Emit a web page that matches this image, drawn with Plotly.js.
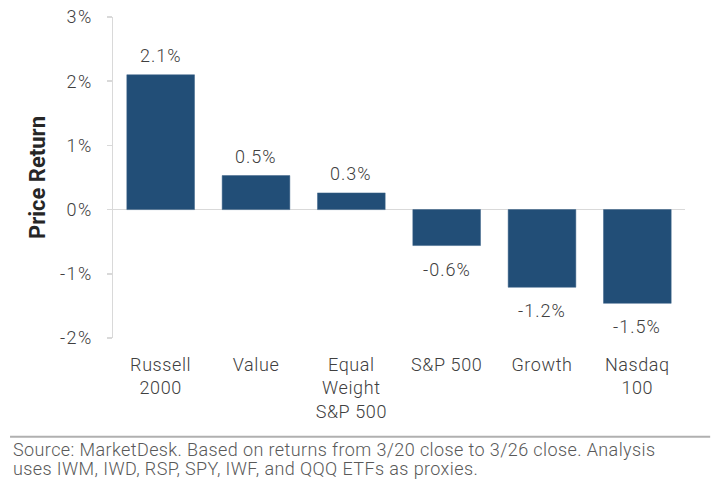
<!DOCTYPE html>
<html>
<head>
<meta charset="utf-8">
<script src="https://cdn.plot.ly/plotly-3.0.1.min.js"></script>
<style>html,body{margin:0;padding:0;background:#fff;}#chart{width:719px;height:496px;}</style>
</head>
<body>
<div id="chart"></div>
<script>
var categories = ["Russell<br>2000", "Value", "Equal<br>Weight<br>S&P 500", "S&P 500", "Growth", "Nasdaq<br>100"];
var returns = [2.10, 0.53, 0.26, -0.56, -1.21, -1.46];
var labels = ["2.1%", "0.5%", "0.3%", "-0.6%", "-1.2%", "-1.5%"];
var yTickVals = [-2, -1, 0, 1, 2, 3];
var yTickText = ["-2%", "-1%", "0%", "1%", "2%", "3%"];
var sourceLines = [
  "Source: MarketDesk. Based on returns from 3/20 close to 3/26 close. Analysis",
  "uses IWM, IWD, RSP, SPY, IWF, and QQQ ETFs as proxies."
];

var FONT = "Roboto, 'Liberation Sans', Arial, sans-serif";

function spaced(t, px) {
  return t.split('<br>').map(function (s) {
    return '<span style="letter-spacing:' + px + 'px">' + s + '</span>';
  }).join('<br>');
}

var annotations = categories.map(function (c, i) {
  var pos = returns[i] >= 0;
  return {
    x: c, y: returns[i], xref: 'x', yref: 'y',
    text: spaced(labels[i], 1), showarrow: false,
    yanchor: pos ? 'bottom' : 'top',
    yshift: pos ? 7 : -11,
    font: {family: FONT, size: 18, color: '#404040', weight: 300}
  };
});
sourceLines.forEach(function (t, i) {
  annotations.push({
    xref: 'paper', yref: 'paper', x: -0.178, y: -0.348 - i * 0.057,
    xanchor: 'left', yanchor: 'middle', showarrow: false, text: spaced(t, 0.4),
    font: {family: FONT, size: 18, color: '#595959', weight: 300}
  });
});

var data = [{
  type: 'bar', x: categories, y: returns,
  marker: {color: '#224e77', line: {color: '#3b6388', width: 0.5}},
  hoverinfo: 'skip'
}];

var layout = {
  width: 719, height: 496,
  margin: {l: 113, r: 34, t: 17, b: 158},
  paper_bgcolor: '#ffffff', plot_bgcolor: '#ffffff',
  bargap: 0.29,
  showlegend: false,
  font: {family: FONT, size: 18, color: '#404040'},
  xaxis: {
    type: 'category', showgrid: false, showline: false, zeroline: false,
    ticks: '', ticklabelstandoff: 14,
    tickvals: categories,
    ticktext: categories.map(function (c) { return spaced(c, 0.6); }),
    tickfont: {family: FONT, size: 18, color: '#404040', weight: 300},
    fixedrange: true
  },
  yaxis: {
    range: [-2, 3], tickvals: yTickVals,
    ticktext: yTickText.map(function (t) { return spaced(t, 1.5); }),
    showgrid: false, showline: true, linecolor: '#d9d9d9', linewidth: 1.5,
    ticks: 'outside', ticklen: 5, tickcolor: '#d9d9d9', tickwidth: 1.5,
    zeroline: true, zerolinecolor: '#d9d9d9', zerolinewidth: 1.5,
    ticklabelstandoff: 10,
    tickfont: {family: FONT, size: 18, color: '#404040', weight: 300},
    title: {text: '<b>Price Return</b>', standoff: 8,
      font: {family: FONT, size: 22, color: '#262626'}},
    fixedrange: true
  },
  shapes: [{
    type: 'line', xref: 'paper', yref: 'paper',
    x0: -0.18, x1: 1.044, y0: -0.308, y1: -0.308,
    line: {color: '#b0b0b0', width: 2}
  }],
  annotations: annotations
};

Plotly.newPlot('chart', data, layout, {displayModeBar: false, staticPlot: true});
</script>
</body>
</html>
